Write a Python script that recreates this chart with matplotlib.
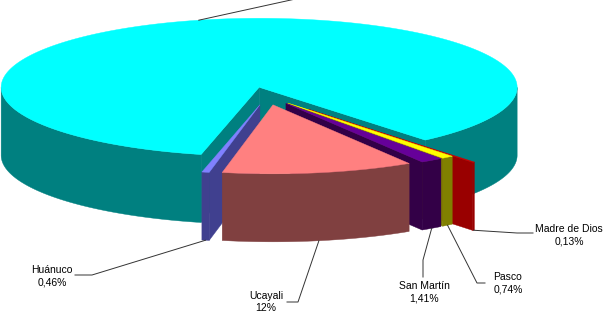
import numpy as np
import matplotlib.pyplot as plt
from matplotlib.patches import Polygon

plt.rcParams['font.family'] = ['Liberation Sans', 'DejaVu Sans']

# datos
regiones = ['Huánuco', 'Ucayali', 'San Martín', 'Pasco', 'Madre de Dios', 'Loreto']
porcentajes = [0.46, 12.0, 1.41, 0.74, 0.13, 85.26]
etiquetas = ['0,46%', '12%', '1,41%', '0,74%', '0,13%', '85,26%']

# estilo
colores_sup = ['#8080FF', '#FF8080', '#660099', '#FFFF00', '#CC0000', '#00FFFF']
colores_lado = ['#40408F', '#804040', '#330047', '#808000', '#990000', '#008080']
separacion = [0.13, 0.13, 0.13, 0.13, 0.25, 0.13]

# geometria del pastel en pixeles
cx, cy = 267, 96
rx, ry, alto = 258, 69, 68
inicio = -103.0

fig = plt.figure(figsize=(6.07, 3.17), dpi=100)
ax = fig.add_axes([0, 0, 1, 1])
ax.set_xlim(0, 607)
ax.set_ylim(317, 0)
ax.axis('off')

angulos = 360 * np.array(porcentajes) / sum(porcentajes)
a0 = inicio + np.concatenate([[0], np.cumsum(angulos)[:-1]])
a1 = a0 + angulos
medio = (a0 + a1) / 2


def punto(x0, y0, ang, z=0.0):
    t = np.radians(ang)
    return x0 + rx * np.cos(t), y0 - ry * np.sin(t) + z


def centro(i):
    t = np.radians(medio[i])
    return cx + rx * separacion[i] * np.cos(t), cy - ry * separacion[i] * np.sin(t)


def cara(xy, color):
    ax.add_patch(Polygon(xy, closed=True, fc=color, ec=color, lw=0.3))


def dibujar(i):
    ox, oy = centro(i)
    sup, lado = colores_sup[i], colores_lado[i]
    # paredes radiales que miran al frente
    for ang, signo in [(a0[i], -1), (a1[i], 1)]:
        if np.sin(np.radians(ang + signo * 90)) < 0:
            px, py = punto(ox, oy, ang)
            cara([(ox, oy), (px, py), (px, py + alto), (ox, oy + alto)], lado)
    # borde exterior visible
    th = np.linspace(a0[i], a1[i], 500)
    vis = np.sin(np.radians(th)) < 0
    idx = np.flatnonzero(np.diff(np.r_[0, vis.astype(int), 0]))
    for s, e in zip(idx[::2], idx[1::2]):
        xs, ys = punto(ox, oy, th[s:e])
        cara(np.c_[np.r_[xs, xs[::-1]], np.r_[ys, ys[::-1] + alto]], lado)
    # cara superior
    xs, ys = punto(ox, oy, th)
    cara(np.c_[np.r_[ox, xs], np.r_[oy, ys]], sup)


grande = int(np.argmax(porcentajes))
orden = [grande] + sorted([k for k in range(len(regiones)) if k != grande],
                          key=lambda k: porcentajes[k])
for i in orden:
    dibujar(i)

# etiquetas con lineas guia (la de Loreto queda fuera del recuadro)
pos_texto = [(52, 276), (266, 302), (424, 292), (508, 283), (569, 235), (330, -24)]
codos = [(92, 275), (298, 302), (423, 260), (477, 283), (517, 233), (300, -2)]
finales = [(75, 275), (287, 302), (423, 277), (485, 283), (533, 233), (290, -2)]

for i in range(len(regiones)):
    ox, oy = centro(i)
    z = 0 if i == grande else alto
    axx, axy = punto(ox, oy, medio[i], z)
    ax.plot([axx, codos[i][0], finales[i][0]], [axy, codos[i][1], finales[i][1]],
            color='#333333', lw=0.7)
    if pos_texto[i][1] > 0:
        ax.text(pos_texto[i][0], pos_texto[i][1], regiones[i] + '\n' + etiquetas[i],
                ha='center', va='center', fontsize=7.5, linespacing=1.35,
                color='#000000')

fig.savefig('out.png', dpi=100)
